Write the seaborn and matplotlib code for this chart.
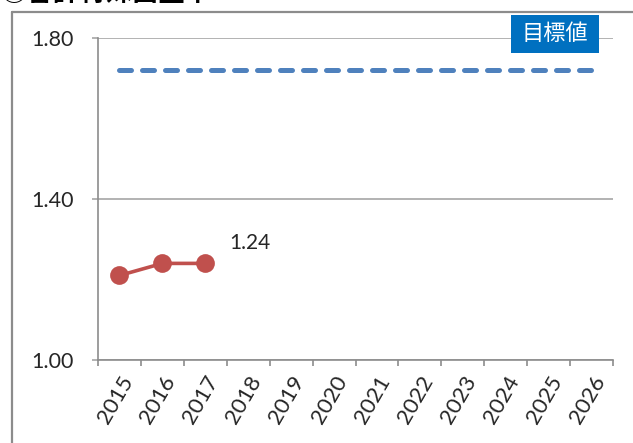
import matplotlib
matplotlib.use("Agg")
import matplotlib.pyplot as plt
import seaborn as sns
import pandas as pd
from matplotlib.patches import Rectangle
from matplotlib.lines import Line2D
from matplotlib.ticker import FixedLocator, NullFormatter

# Data
years = [2015, 2016, 2017, 2018, 2019, 2020, 2021, 2022, 2023, 2024, 2025, 2026]
actual_years = [2015, 2016, 2017]
actual_values = [1.21, 1.24, 1.24]
target_value = 1.72
y_ticks = [1.00, 1.40, 1.80]
title = "①合計特殊出生率"
target_label = "目標値"

sns.set_theme(style="white")
plt.rcParams["font.family"] = ["Lato", "Noto Sans CJK JP", "DejaVu Sans"]

W, H = 633, 443
fig = plt.figure(figsize=(W / 100, H / 100), dpi=100)
ax = fig.add_axes([98 / W, 1 - 360 / H, (613 - 98) / W, (360 - 38) / H])

grid_c = "#a6a6a6"
axis_c = "#8c8c8c"

df_actual = pd.DataFrame({"year": actual_years, "value": actual_values})
df_target = pd.DataFrame({"year": [years[0], years[-1]], "value": [target_value, target_value]})

sns.lineplot(data=df_target, x="year", y="value", ax=ax, color="#4f81bd",
             linewidth=3.6, dashes=False, zorder=3)
ax.lines[-1].set_dashes((2.4, 2.2))
ax.lines[-1].set_dash_capstyle("round")

sns.lineplot(data=df_actual, x="year", y="value", ax=ax, color="#c0504d",
             linewidth=2.6, marker="o", markersize=13.5, markeredgewidth=0, zorder=4)

ax.annotate(f"{actual_values[-1]:.2f}", (actual_years[-1], actual_values[-1]),
            xytext=(17, 15), textcoords="offset points", ha="left", va="center",
            fontsize=15, color="#262626")

ax.set_xlim(years[0] - 0.5, years[-1] + 0.5)
ax.set_ylim(1.0, 1.8)
ax.set_yticks(y_ticks)
ax.set_yticklabels([f"{v:.2f}" for v in y_ticks], fontsize=15.5, color="#262626")
ax.set_xticks(years)
ax.set_xticklabels([str(y) for y in years], rotation=60, ha="right",
                   rotation_mode="anchor", fontsize=16, color="#262626")
ax.xaxis.set_minor_locator(FixedLocator([y - 0.5 for y in years] + [years[-1] + 0.5]))
ax.xaxis.set_minor_formatter(NullFormatter())
ax.tick_params(axis="x", which="major", length=0, pad=9)
ax.tick_params(axis="x", which="minor", length=4.5, width=1.2, color=axis_c, bottom=True)
ax.tick_params(axis="y", length=4.5, width=1.2, color=grid_c, pad=13, left=True)

ax.set_xlabel("")
ax.set_ylabel("")
ax.grid(axis="y", color=grid_c, linewidth=1.2)
ax.grid(axis="x", visible=False)
for side in ("top", "right"):
    ax.spines[side].set_visible(False)
for side in ("left", "bottom"):
    ax.spines[side].set_color(axis_c)
    ax.spines[side].set_linewidth(1.2)

# Frame around the chart area
fig.add_artist(Line2D([12 / W, 12 / W], [0, 1 - 12 / H], color="#8c8c8c", linewidth=1.6,
                      transform=fig.transFigure))
fig.add_artist(Line2D([12 / W, 1], [1 - 12 / H, 1 - 12 / H], color="#8c8c8c", linewidth=1.6,
                      transform=fig.transFigure))

# Title
fig.text(0 / W, 1 + 6 / H, title, fontsize=19, fontweight="bold", ha="left", va="center",
         family=["Noto Sans CJK JP", "DejaVu Sans"], color="black")

# Target label box
fig.add_artist(Rectangle((511 / W, 1 - 53 / H), 88 / W, 38 / H, transform=fig.transFigure,
                         facecolor="#0070c0", edgecolor="none", zorder=5))
fig.text(555 / W, 1 - 34 / H, target_label, fontsize=16, color="white", ha="center",
         va="center", family=["Noto Sans CJK JP", "DejaVu Sans"], zorder=6)

fig.savefig("out.png", dpi=100)
